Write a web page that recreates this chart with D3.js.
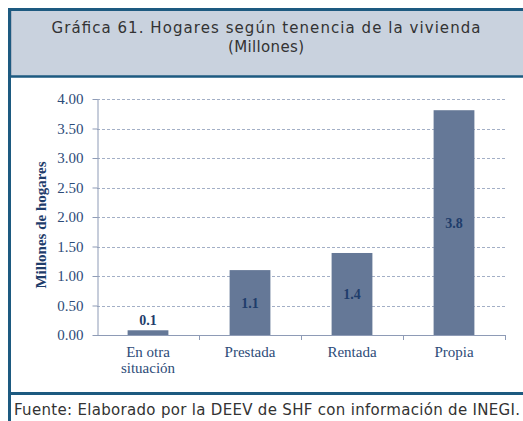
<!DOCTYPE html>
<html>
<head>
<meta charset="utf-8">
<script src="https://cdn.jsdelivr.net/npm/d3@7/dist/d3.min.js"></script>
<style>
  html, body { margin: 0; padding: 0; background: #ffffff; }
  svg { display: block; }
</style>
</head>
<body>
<svg id="chart" width="523" height="421"></svg>
<script>
// Hogares según tenencia de la vivienda (millones)
const categories = ["En otra situación", "Prestada", "Rentada", "Propia"];
const values = [0.08, 1.10, 1.39, 3.81];
const yTicks = [0, 0.5, 1, 1.5, 2, 2.5, 3, 3.5, 4];
const titleLines = ["Gráfica 61. Hogares según tenencia de la vivienda", "(Millones)"];
const yAxisTitle = "Millones de hogares";
const sourceNote = "Fuente: Elaborado por la DEEV de SHF con información de INEGI.";

const W = 523, H = 421;
const frameColor = "#1d5a80";
const barColor = "#657897";
const tickTextColor = "#2d4b78";
const labelColor = "#1f3d6b";
const serif = "'Liberation Serif', 'Times New Roman', serif";
const sans = "'DejaVu Sans', 'Noto Sans', sans-serif";

const svg = d3.select("#chart");

svg.append("rect").attr("width", W).attr("height", H).attr("fill", "#ffffff");

// Title band
svg.append("rect")
  .attr("x", 10).attr("y", 10).attr("width", W - 10).attr("height", 66)
  .attr("fill", "#c9d2de");
svg.append("line")
  .attr("x1", 11.5).attr("x2", 11.5).attr("y1", 11).attr("y2", 76)
  .attr("stroke", "#a9b6c6").attr("stroke-width", 1);

const titleWidths = [429, 76];
svg.append("g")
  .selectAll("text")
  .data(titleLines)
  .join("text")
  .attr("x", 266)
  .attr("y", (d, i) => 33 + i * 19)
  .attr("text-anchor", "middle")
  .attr("font-family", sans)
  .attr("font-size", 15)
  .attr("fill", "#333333")
  .attr("textLength", (d, i) => titleWidths[i])
  .attr("lengthAdjust", "spacing")
  .text(d => d);

// Frame lines
const frame = svg.append("g").attr("stroke", frameColor).attr("fill", "none");
frame.append("line").attr("x1", 8).attr("x2", W).attr("y1", 9.5).attr("y2", 9.5).attr("stroke-width", 3);
frame.append("line").attr("x1", 9.5).attr("x2", 9.5).attr("y1", 8).attr("y2", H).attr("stroke-width", 3);
frame.append("line").attr("x1", 8).attr("x2", W).attr("y1", 76.5).attr("y2", 76.5).attr("stroke-width", 2.5);
frame.append("line").attr("x1", 8).attr("x2", W).attr("y1", 393.5).attr("y2", 393.5).attr("stroke-width", 3);

// Source note
svg.append("text")
  .attr("x", 14).attr("y", 415)
  .attr("font-family", sans)
  .attr("font-size", 15)
  .attr("textLength", 506)
  .attr("lengthAdjust", "spacing")
  .attr("fill", "#333333")
  .text(sourceNote);

// Plot area
const plot = { left: 97, right: 505, top: 99, bottom: 335 };

const x = d3.scaleBand()
  .domain(categories)
  .range([plot.left, plot.right])
  .paddingInner(0.6)
  .paddingOuter(0.3);

const y = d3.scaleLinear()
  .domain([0, 4])
  .range([plot.bottom, plot.top]);

// Gridlines
svg.append("g")
  .selectAll("line")
  .data(yTicks.filter(t => t > 0))
  .join("line")
  .attr("x1", plot.left).attr("x2", plot.right)
  .attr("y1", d => Math.round(y(d)) + 0.5).attr("y2", d => Math.round(y(d)) + 0.5)
  .attr("stroke", "#a3afc6")
  .attr("stroke-width", 1)
  .attr("stroke-dasharray", "3,2");

// Bars
svg.append("g")
  .selectAll("rect")
  .data(values)
  .join("rect")
  .attr("x", (d, i) => x(categories[i]))
  .attr("y", d => y(d))
  .attr("width", x.bandwidth())
  .attr("height", d => y(0) - y(d))
  .attr("fill", barColor);

// Y axis
const yAxis = d3.axisLeft(y)
  .tickValues(yTicks)
  .tickFormat(d3.format(".2f"))
  .tickSize(5)
  .tickSizeOuter(0)
  .tickPadding(9);

const gy = svg.append("g")
  .attr("transform", `translate(${plot.left + 0.5},0)`)
  .call(yAxis);
gy.select(".domain").attr("stroke", "#8e9bb6");
gy.selectAll(".tick line").attr("stroke", "#8e9bb6");
gy.selectAll(".tick text")
  .attr("font-family", serif)
  .attr("font-size", 15)
  .attr("fill", tickTextColor);

// X axis: baseline with ticks at category boundaries
const gx = svg.append("g");
gx.append("line")
  .attr("x1", plot.left).attr("x2", plot.right)
  .attr("y1", y(0) + 0.5).attr("y2", y(0) + 0.5)
  .attr("stroke", "#8e9bb6");
gx.selectAll("line.tk")
  .data(d3.range(1, categories.length + 1))
  .join("line")
  .attr("class", "tk")
  .attr("x1", i => Math.round(plot.left + i * x.step()) + 0.5)
  .attr("x2", i => Math.round(plot.left + i * x.step()) + 0.5)
  .attr("y1", y(0)).attr("y2", y(0) + 5)
  .attr("stroke", "#8e9bb6");

// Category labels, wrapped to the band width
const catLabels = gx.selectAll("text.cat")
  .data(categories)
  .join("text")
  .attr("class", "cat")
  .attr("x", d => x(d) + x.bandwidth() / 2)
  .attr("y", 357)
  .attr("text-anchor", "middle")
  .attr("font-family", serif)
  .attr("font-size", 15)
  .attr("fill", tickTextColor);

catLabels.each(function(d) {
  const el = d3.select(this);
  const words = d.split(" ");
  const maxW = x.step() - 12;
  let lines = [], current = [];
  const probe = el.append("tspan");
  words.forEach(w => {
    const trial = current.concat(w).join(" ");
    probe.text(trial);
    if (probe.node().getComputedTextLength() > maxW && current.length) {
      lines.push(current.join(" "));
      current = [w];
    } else {
      current.push(w);
    }
  });
  lines.push(current.join(" "));
  probe.remove();
  lines.forEach((line, i) => {
    el.append("tspan")
      .attr("x", x(d) + x.bandwidth() / 2)
      .attr("dy", i === 0 ? 0 : 16)
      .text(line);
  });
});

// Value labels: centred in the bar, or above it when the bar is too short
const fmt = d3.format(".1f");
svg.append("g")
  .selectAll("text")
  .data(values)
  .join("text")
  .attr("x", (d, i) => x(categories[i]) + x.bandwidth() / 2)
  .attr("y", d => {
    const h = y(0) - y(d);
    return h < 20 ? y(d) - 5 : y(d) + h / 2 + 5;
  })
  .attr("text-anchor", "middle")
  .attr("font-family", serif)
  .attr("font-weight", "bold")
  .attr("font-size", 14)
  .attr("fill", labelColor)
  .text(d => fmt(d));

// Y axis title
svg.append("text")
  .attr("transform", `translate(46, ${(plot.top + plot.bottom) / 2 + 8}) rotate(-90)`)
  .attr("text-anchor", "middle")
  .attr("font-family", serif)
  .attr("font-weight", "bold")
  .attr("font-size", 15)
  .attr("fill", "#1f3d6b")
  .text(yAxisTitle);
</script>
</body>
</html>
